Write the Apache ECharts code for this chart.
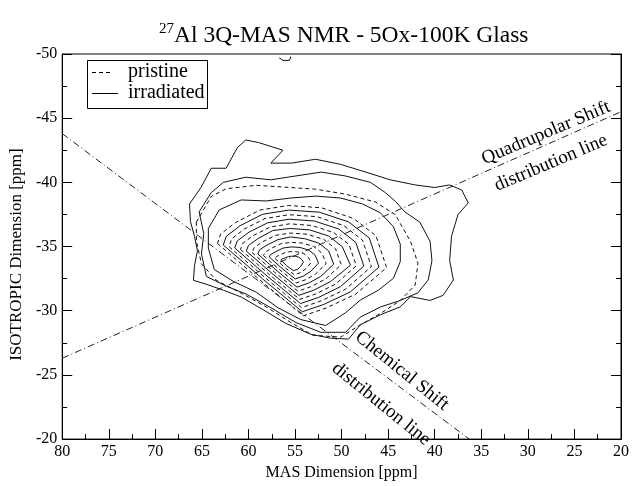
<!DOCTYPE html>
<html><head><meta charset="utf-8">
<script src="https://cdn.jsdelivr.net/npm/echarts@6/dist/echarts.min.js"></script>
<style>html,body{margin:0;padding:0;background:#fff}#c{width:632px;height:486px}</style>
</head><body><div id="c"></div>
<script>
// axis ranges (ppm)
const xRange = [20, 80];
const yRange = [-50, -20];
const tickStep = 5;
const legendNames = ['pristine', 'irradiated'];

// dash-dot guide lines
const chemShiftLine = [[80, -43.8], [36.3, -20]];
const quadShiftLine = [[80, -26.3], [20, -45.5]];

// irradiated contours (solid), inner -> outer, [MAS ppm, ISO ppm]
const irr1 = [[56.53,-33.95],[55.89,-33.50],[55.17,-33.12],[54.69,-33.24],[54.38,-33.47],[54.10,-33.78],[54.29,-33.99],[54.59,-34.17],[54.97,-34.24],[55.37,-34.25],[55.72,-34.22],[56.08,-34.11],[56.41,-34.03]];
const irr3 = [[57.77,-34.19],[56.41,-33.30],[54.98,-32.48],[54.13,-32.69],[53.31,-33.07],[52.48,-33.71],[52.84,-34.32],[53.52,-34.72],[54.46,-34.93],[55.43,-34.97],[56.28,-34.88],[57.05,-34.61],[57.61,-34.39]];
const irr5 = [[59.00,-34.42],[56.93,-33.10],[54.79,-31.84],[53.58,-32.14],[52.24,-32.67],[50.85,-33.63],[51.39,-34.66],[52.45,-35.27],[53.95,-35.61],[55.50,-35.75],[56.83,-35.54],[58.01,-35.12],[58.81,-34.74]];
const irr7 = [[60.24,-34.65],[57.46,-32.90],[54.60,-31.20],[53.02,-31.59],[51.17,-32.28],[49.05,-33.55],[49.94,-35.00],[51.39,-35.82],[53.44,-36.30],[55.56,-36.41],[57.39,-36.25],[58.97,-35.62],[60.00,-35.09]];
const irr9 = [[61.48,-34.89],[57.98,-32.69],[54.41,-30.56],[52.47,-31.04],[50.11,-31.88],[47.61,-33.48],[48.48,-35.33],[50.32,-36.37],[52.92,-36.99],[55.63,-37.13],[57.94,-36.85],[59.93,-36.13],[61.20,-35.44]];
const irr11 = [[62.71,-35.12],[58.50,-32.49],[54.22,-29.92],[51.91,-30.49],[49.04,-31.48],[45.99,-33.40],[47.03,-35.67],[49.25,-36.92],[52.41,-37.68],[55.69,-37.84],[58.50,-37.51],[60.89,-36.63],[62.39,-35.79]];
const irrG = [[64.31,-36.41],[63.13,-37.86],[60.78,-38.63],[58.11,-38.55],[55.44,-38.78],[52.78,-38.93],[50.11,-38.78],[47.76,-38.32],[45.84,-37.63],[44.45,-36.56],[43.70,-35.19],[43.70,-33.82],[44.45,-32.52],[46.05,-31.60],[47.97,-30.84],[49.57,-29.85],[51.71,-28.85],[54.38,-29.31],[56.83,-30.23],[59.18,-31.45],[61.64,-32.29],[63.67,-33.21],[64.31,-34.88]];
const irrH = [[65.3,-37.7],[64.0,-39.2],[62.7,-40.0],[60.3,-40.4],[57.6,-40.2],[54.9,-40.5],[52.2,-40.8],[49.6,-40.5],[46.9,-40.0],[45.3,-39.2],[44.2,-38.5],[43.2,-37.7],[41.6,-36.9],[40.5,-35.4],[40.3,-33.9],[40.7,-32.4],[41.8,-31.4],[43.7,-30.8],[45.8,-30.3],[48.0,-29.5],[49.57,-28.32],[52.24,-28.32],[54.91,-29.08],[57.58,-30.23],[60.25,-31.30],[62.38,-31.91],[64.52,-32.67],[65.05,-34.43],[64.8,-36.0]];
const irrI = [[66.33,-38.32],[65.1,-39.6],[64.0,-41.1],[62.4,-41.1],[61.2,-42.7],[60.3,-43.3],[58.9,-43.1],[56.3,-42.5],[57.6,-41.5],[55.4,-41.5],[52.8,-41.8],[50.1,-41.4],[47.4,-40.8],[44.8,-40.2],[42.1,-39.8],[40.0,-39.6],[38.4,-39.8],[37.1,-39.4],[36.4,-38.4],[37.5,-37.5],[38.2,-35.8],[38.4,-33.9],[38.0,-32.4],[39.1,-31.2],[40.5,-30.8],[42.6,-31.1],[43.7,-30.3],[45.8,-29.7],[48.0,-28.9],[49.25,-27.79],[51.18,-27.86],[53.31,-28.17],[55.98,-29.01],[58.43,-30.08],[60.78,-31.07],[62.70,-31.60],[64.52,-32.06],[65.91,-32.37],[65.80,-33.51],[65.48,-34.66],[65.80,-35.80],[66.23,-36.95]];
const irrSpeck = [[56.7,-49.7],[56.3,-49.5],[55.6,-49.5],[55.45,-49.8]];

// pristine contours (dashed), inner -> outer
const pri2 = [[57.15,-34.07],[56.15,-33.40],[55.07,-32.80],[54.41,-32.97],[53.84,-33.27],[53.29,-33.74],[53.57,-34.16],[54.06,-34.45],[54.72,-34.58],[55.40,-34.61],[56.00,-34.55],[56.57,-34.36],[57.01,-34.21]];
const pri4 = [[58.39,-34.30],[56.67,-33.20],[54.88,-32.16],[53.85,-32.42],[52.78,-32.87],[51.66,-33.67],[52.11,-34.49],[52.99,-35.00],[54.21,-35.27],[55.47,-35.33],[56.55,-35.21],[57.53,-34.87],[58.21,-34.56]];
const pri6 = [[59.62,-34.54],[57.19,-33.00],[54.69,-31.52],[53.30,-31.87],[51.71,-32.48],[50.04,-33.59],[50.66,-34.83],[51.92,-35.55],[53.69,-35.96],[55.53,-36.05],[57.11,-35.87],[58.49,-35.37],[59.40,-34.91]];
const pri8 = [[60.86,-34.77],[57.72,-32.79],[54.50,-30.88],[52.74,-31.32],[50.64,-32.08],[48.42,-33.51],[49.21,-35.16],[50.85,-36.09],[53.18,-36.64],[55.59,-36.77],[57.67,-36.52],[59.45,-35.87],[60.60,-35.26]];
const pri10 = [[62.09,-35.00],[58.24,-32.59],[54.31,-30.24],[52.19,-30.77],[49.57,-31.68],[46.80,-33.44],[47.76,-35.50],[49.79,-36.64],[52.67,-37.33],[55.66,-37.48],[58.22,-37.18],[60.41,-36.38],[61.80,-35.61]];
const pri12 = [[63.33,-35.24],[58.76,-32.39],[54.12,-29.60],[51.63,-30.22],[48.50,-31.29],[45.17,-33.36],[46.31,-35.84],[48.72,-37.19],[52.16,-38.02],[55.72,-38.20],[58.78,-37.84],[61.37,-36.88],[62.99,-35.97]];
const priG = [[65.6,-36.9],[64.0,-38.9],[62.4,-39.5],[59.18,-39.77],[55.98,-39.62],[52.78,-39.47],[49.57,-39.08],[46.37,-38.47],[44.24,-37.48],[42.6,-35.4],[41.8,-33.7],[42.1,-32.0],[43.7,-30.8],[45.8,-29.8],[48.0,-28.9],[50.11,-27.94],[53.10,-28.09],[55.44,-29.08],[58.11,-30.30],[60.78,-31.37],[63.45,-32.37],[65.05,-33.66],[65.59,-35.42]];

const irradiatedContours = [irr1, irr3, irr5, irr7, irr9, irr11, irrG, irrH, irrI];
const pristineContours = [pri2, pri4, pri6, pri8, pri10, pri12, priG];

const FONT = "'Liberation Serif','Times New Roman',serif";
const close = pts => pts.concat([pts[0]]);
function contour(name, pts, dashed, closed = true) {
  return {
    type: 'line', name: name, data: closed ? close(pts) : pts,
    showSymbol: false, symbol: 'none', silent: true, animation: false,
    lineStyle: { color: '#111', width: 1, type: dashed ? [4, 3] : 'solid' }
  };
}
const series = [];
pristineContours.forEach(p => series.push(contour(legendNames[0], p, true)));
irradiatedContours.forEach(p => series.push(contour(legendNames[1], p, false)));
series.push(contour(legendNames[1], irrSpeck, false, false));
[chemShiftLine, quadShiftLine].forEach(l => series.push({
  type: 'line', data: l, showSymbol: false, symbol: 'none', silent: true, animation: false,
  lineStyle: { color: '#222', width: 1, type: [7, 3, 1, 3] }
}));

const chart = echarts.init(document.getElementById('c'), null, { renderer: 'canvas' });
const axisCommon = {
  axisLine: { show: true, lineStyle: { color: '#000', width: 1 } },
  axisTick: { show: true, inside: true, length: 10, lineStyle: { color: '#000' } },
  minorTick: { show: true, splitNumber: 2, length: 5, lineStyle: { color: '#000' } },
  splitLine: { show: false }, minorSplitLine: { show: false }
};
const txt = (t, x, y, rot, size) => ({
  type: 'text', x: x, y: y, rotation: rot, silent: true,
  style: { text: t, font: size + 'px ' + FONT, fill: '#000', textAlign: 'center', textVerticalAlign: 'middle' }
});
chart.setOption({
  backgroundColor: '#fff',
  animation: false,
  title: {
    text: '{sup|27}{main|Al 3Q-MAS NMR - 5Ox-100K Glass}',
    left: 154, top: 17,
    textStyle: {
      rich: {
        sup: { fontFamily: FONT, fontSize: 15, fontWeight: 'normal', color: '#000', verticalAlign: 'top', lineHeight: 28 },
        main: { fontFamily: FONT, fontSize: 23.5, fontWeight: 'normal', color: '#000', lineHeight: 28 }
      }
    }
  },
  grid: { left: 60, right: 10, top: 54, bottom: 39, show: true, borderColor: '#000', borderWidth: 1 },
  xAxis: Object.assign({
    type: 'value', min: xRange[0], max: xRange[1], interval: tickStep, inverse: true,
    name: 'MAS Dimension [ppm]', nameLocation: 'middle', nameGap: 23,
    nameTextStyle: { fontFamily: FONT, fontSize: 16, color: '#000' },
    axisLabel: { fontFamily: FONT, fontSize: 16, color: '#000', margin: 5 }
  }, axisCommon),
  yAxis: [
    Object.assign({
      type: 'value', min: yRange[0], max: yRange[1], interval: tickStep, inverse: true,
      name: 'ISOTROPIC Dimension [ppm]', nameLocation: 'middle', nameGap: 32,
      nameTextStyle: { fontFamily: FONT, fontSize: 17, color: '#000', padding: [0, 16, 0, 0] },
      axisLabel: { fontFamily: FONT, fontSize: 16, color: '#000', margin: 5 }
    }, axisCommon),
    Object.assign({
      type: 'value', position: 'right', min: yRange[0], max: yRange[1], interval: tickStep, inverse: true,
      axisLabel: { show: false }
    }, axisCommon)
  ],
  series: series,
  graphic: [
    { type: 'rect', shape: { x: 87.5, y: 60.5, width: 120, height: 48 }, silent: true, z: 100,
      style: { fill: '#fff', stroke: '#000', lineWidth: 1 } },
    { type: 'line', shape: { x1: 92, y1: 72.5, x2: 112, y2: 72.5 }, silent: true, z: 101,
      style: { stroke: '#000', lineWidth: 1, lineDash: [4, 3] } },
    { type: 'line', shape: { x1: 92, y1: 93.5, x2: 118, y2: 93.5 }, silent: true, z: 101,
      style: { stroke: '#000', lineWidth: 1 } },
    { type: 'text', x: 128, y: 72, silent: true, z: 101,
      style: { text: legendNames[0], font: '20px ' + FONT, fill: '#000', textAlign: 'left', textVerticalAlign: 'middle' } },
    { type: 'text', x: 128, y: 93, silent: true, z: 101,
      style: { text: legendNames[1], font: '20px ' + FONT, fill: '#000', textAlign: 'left', textVerticalAlign: 'middle' } },
    txt('Quadrupolar Shift', 546, 133, 0.40, 19),
    txt('distribution line', 551, 163, 0.40, 19),
    txt('Chemical Shift', 402, 371, -0.68, 19),
    txt('distribution line', 381, 404, -0.68, 19)
  ]
});
</script></body></html>
